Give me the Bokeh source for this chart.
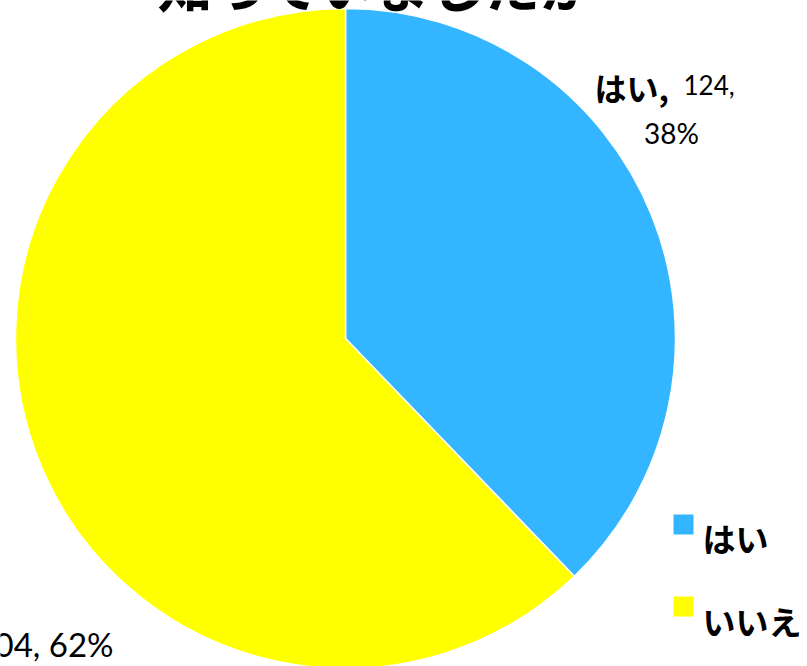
import math
from bokeh.plotting import figure
from bokeh.models import Range1d, ColumnDataSource
from bokeh.core.properties import value
from bokeh.embed import file_html
from bokeh.resources import INLINE

# ---- data ----
title = "知っていましたか"
categories = ["はい", "いいえ"]
counts = [124, 204]
colors = ["#33B5FF", "#FFFF00"]

total = sum(counts)
pcts = [round(100 * c / total) for c in counts]

# ---- layout (picture pixel coordinates, y measured from top) ----
W, H = 807, 666


def Y(py):
    return H - py


p = figure(width=W, height=H, output_backend="svg", toolbar_location=None,
           x_range=Range1d(0, W), y_range=Range1d(0, H), min_border=0)
p.axis.visible = False
p.grid.visible = False
p.outline_line_color = None
p.background_fill_color = "white"

# wedges: start at 12 o'clock going clockwise
starts, ends = [], []
cum = 0.0
for c in counts:
    a_end = math.pi / 2 - 2 * math.pi * cum / total
    cum += c
    a_start = math.pi / 2 - 2 * math.pi * cum / total
    starts.append(a_start)
    ends.append(a_end)

cx, cy, r = 345, Y(338), 330
src = ColumnDataSource(dict(start=starts, end=ends, color=colors, cat=categories))
p.wedge(x=cx, y=cy, radius=r, start_angle="start", end_angle="end",
        fill_color="color", line_color="white", line_width=1.5, source=src)

jp = value("Noto Sans CJK JP")
num = value("Lato")

# title (cut off at top, like the reference)
p.text(x=[377], y=[Y(-18)], text=[title], text_font=jp, text_font_style="bold",
       text_font_size="55px", text_align="center", text_baseline="alphabetic",
       text_color="black")

# label for はい
p.text(x=[594], y=[Y(86)], text=[categories[0] + ","], text_font=jp,
       text_font_size="32px", text_align="left", text_baseline="alphabetic",
       text_color="black", text_font_style="bold")
p.text(x=[683], y=[Y(84)], text=[f"{counts[0]},"], text_font=num,
       text_font_size="26px", text_align="left", text_baseline="alphabetic",
       text_color="black")
p.text(x=[671], y=[Y(132)], text=[f"{pcts[0]}%"], text_font=num,
       text_font_size="28px", text_align="center", text_baseline="alphabetic",
       text_color="black")

# label for いいえ (mostly cut off on the left)
p.text(x=[113], y=[Y(643)], text=[f"{counts[1]}, {pcts[1]}%"], text_font=num,
       text_font_size="33px", text_align="right", text_baseline="alphabetic",
       text_color="black")
p.text(x=[-25], y=[Y(643)], text=[categories[1] + ","], text_font=jp,
       text_font_size="32px", text_align="right", text_baseline="alphabetic",
       text_color="black", text_font_style="bold")

# legend
leg_y = [Y(524), Y(606)]
p.scatter(x=[683, 683], y=leg_y, marker="square", size=20,
          fill_color=colors, line_color=None)
p.text(x=[702, 702], y=[Y(537), Y(620)], text=categories, text_font=jp,
       text_font_size="33px", text_align="left", text_baseline="alphabetic",
       text_color="black", text_font_style="bold")

open("out.html", "w").write(file_html(p, INLINE))
